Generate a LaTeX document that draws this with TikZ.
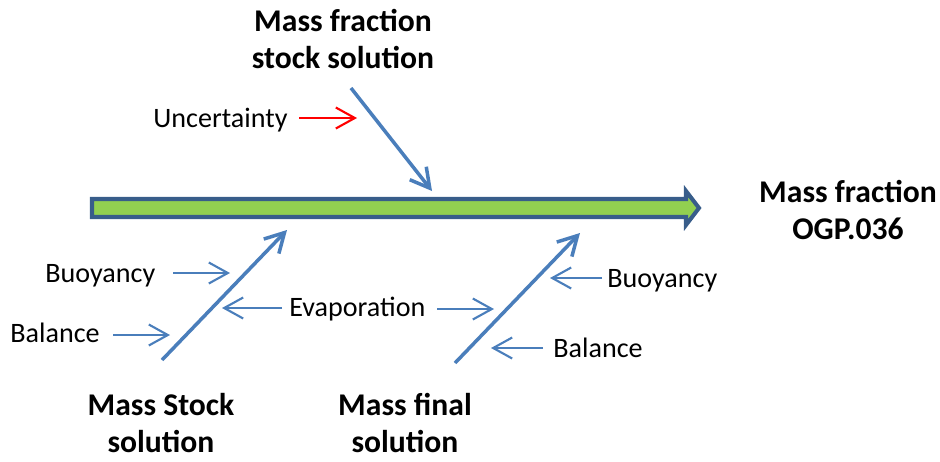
\documentclass[tikz,border=0pt]{standalone}
\usepackage{fontspec}
\setmainfont{Carlito}
\usetikzlibrary{arrows.meta}

\definecolor{boneblue}{HTML}{4A7EBB}
\definecolor{spineedge}{HTML}{385D8A}
\definecolor{spinefill}{HTML}{92D050}

\begin{document}
\begin{tikzpicture}[
          x=0.02cm, y=-0.02cm,
          cause/.style={font=\fontsize{16}{19}\selectfont, inner sep=0pt, anchor=base west},
          effect/.style={font=\fontsize{18}{21}\selectfont\bfseries, inner sep=0pt, anchor=base, align=center},
          openhead/.style={-{Straight Barb[length=0.38cm, width=0.42cm]}},
          twig/.style={openhead, boneblue, line width=1.2pt},
          bone/.style={openhead, boneblue, line width=2pt},
          spine/.style={draw=spineedge, fill=spinefill, line width=2.3pt, line join=miter}
      ]
        \useasboundingbox (0,0) rectangle (940,461);

        % main arrow
        \draw[spine] (92,199) -- (686,199) -- (686,191) -- (699,208) -- (686,225)
              -- (686,217) -- (92,217) -- cycle;

        % effect and main causes (base = last line)
        \node[effect] (result) at (848,239) {Mass fraction\\OGP.036};
        \node[effect] (stock) at (343,68) {Mass fraction\\stock solution};
        \node[effect] (mstock) at (161,452) {Mass Stock\\solution};
        \node[effect] (mfinal) at (405,452) {Mass final\\solution};

        % sub causes
        \node[cause] (unc) at (153,127) {Uncertainty};
        \node[cause] (buoyA) at (45,282) {Buoyancy};
        \node[cause] (balA) at (10,342) {Balance};
        \node[cause] (evap) at (289,316) {Evaporation};
        \node[cause] (buoyB) at (607,287) {Buoyancy};
        \node[cause] (balB) at (553,357) {Balance};

        % bone ends
        \coordinate (stockS) at (351,88);
        \coordinate (stockT) at (432,191);
        \coordinate (mstockS) at (162,360);
        \coordinate (mstockT) at (287,230);
        \coordinate (mfinalS) at (455,363);
        \coordinate (mfinalT) at (580,233);

        % twig ends
        \coordinate (uncS) at (299,118);
        \coordinate (uncT) at (357,118);
        \coordinate (buoyAS) at (173,273);
        \coordinate (buoyAT) at (230,273);
        \coordinate (balAS) at (113,335);
        \coordinate (balAT) at (170,335);
        \coordinate (evapAS) at (282,308);
        \coordinate (evapAT) at (222,308);
        \coordinate (evapBS) at (437,309);
        \coordinate (evapBT) at (494,309);
        \coordinate (buoyBS) at (602,278);
        \coordinate (buoyBT) at (550,278);
        \coordinate (balBS) at (543,348);
        \coordinate (balBT) at (491,348);

        \draw[bone] (stockS) -- (stockT);
        \draw[bone] (mstockS) -- (mstockT);
        \draw[bone] (mfinalS) -- (mfinalT);

        \draw[twig, red] (uncS) -- (uncT);
        \draw[twig] (buoyAS) -- (buoyAT);
        \draw[twig] (balAS) -- (balAT);
        \draw[twig] (evapAS) -- (evapAT);
        \draw[twig] (evapBS) -- (evapBT);
        \draw[twig] (buoyBS) -- (buoyBT);
        \draw[twig] (balBS) -- (balBT);
      \end{tikzpicture}
\end{document}
